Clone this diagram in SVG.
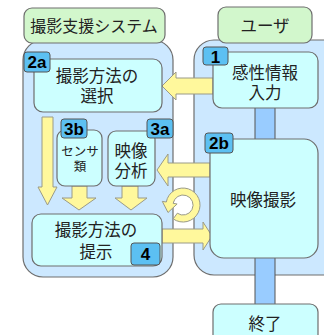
<svg xmlns="http://www.w3.org/2000/svg" width="324" height="335" viewBox="0 0 324 335">
<style>
.panel{fill:#CCE8FF;stroke:#6E6E6E;stroke-width:1.2}
.label{fill:#D2F7CC;stroke:#6E6E6E;stroke-width:1.2}
.node{fill:#CCFFFF;stroke:#6E6E6E;stroke-width:1.2}
.badge{fill:#5CC0F2;stroke:#555;stroke-width:1}
.bar{fill:#99CCFF;stroke:#555;stroke-width:1}
.arrow{fill:#FFF89C;stroke:#9A9A88;stroke-width:1}
text{font-family:"Noto Sans CJK JP","Noto Sans",sans-serif;fill:#222;text-anchor:middle}
.t{font-size:16.5px}
.ts{font-size:12.5px}
.b{font-family:"Liberation Sans",Arial,sans-serif;font-weight:bold;font-size:17px;fill:#000}
</style>
<g id="system-panel">
<rect class="panel" x="23" y="40" width="150" height="237" rx="20"/>
<rect class="label" x="24" y="8" width="141" height="35" rx="8"/>
<text class="t" x="94" y="32" style="font-size:16px">撮影支援システム</text>
</g>
<g id="user-panel">
<rect class="panel" x="194" y="40" width="150" height="235" rx="20"/>
<rect class="label" x="218" y="7" width="94" height="36" rx="8"/>
<text class="t" x="265" y="32">ユーザ</text>
</g>
<g id="connectors">
<rect class="bar" x="255" y="107" width="20" height="33"/>
<rect class="bar" x="255" y="257" width="20" height="48"/>
<polygon class="arrow" points="213,78 176,78 176,72 162,86 176,100 176,94 213,94"/>
<polygon class="arrow" points="210,163 168,163 168,154 157,170 168,186 168,177 210,177"/>
<polygon class="arrow" points="162,229 203,229 203,222 212,236 203,250 203,243 162,243"/>
<polygon class="arrow" points="42,117 53,117 53,187 57,187 47.5,205 38,187 42,187"/>
<polygon class="arrow" points="72,186 87,186 87,198 96,198 79,210 62,198 72,198"/>
<polygon class="arrow" points="122,186 138,186 138,198 147,198 131,210 115,198 122,198"/>
<path class="arrow" d="M173.2,218.9 A17,17 0 1 0 166.3,202 L162.3,201.4 L168,212.5 L177.1,204 L173.2,203.3 A10,10 0 1 1 177.3,213.2 Z"/>
</g>
<g id="node-1">
<rect class="node" x="213" y="52" width="105" height="56" rx="9"/>
<text class="t" x="265" y="79">感性情報<tspan x="265" dy="20">入力</tspan></text>
<rect class="badge" x="203" y="47" width="25" height="18" rx="3"/>
<text class="b" x="215.5" y="62.5">1</text>
</g>
<g id="node-2a">
<rect class="node" x="34" y="59" width="128" height="53" rx="9"/>
<text class="t" x="97" y="82">撮影方法の<tspan x="97" dy="20">選択</tspan></text>
<rect class="badge" x="24" y="52" width="26" height="20" rx="3"/>
<text class="b" x="37" y="68">2a</text>
</g>
<g id="node-3b">
<rect class="node" x="57" y="130" width="45" height="56" rx="8"/>
<text class="ts" x="80" y="156">センサ<tspan x="80" dy="15">類</tspan></text>
<rect class="badge" x="61" y="119" width="26" height="19" rx="3"/>
<text class="b" x="74" y="134.5">3b</text>
</g>
<g id="node-3a">
<rect class="node" x="108" y="131" width="47" height="55" rx="8"/>
<text class="t" x="131" y="157">映像<tspan x="131" dy="20">分析</tspan></text>
<rect class="badge" x="147" y="119" width="26" height="19" rx="3"/>
<text class="b" x="160" y="134.5">3a</text>
</g>
<g id="node-2b">
<rect class="node" x="210" y="139" width="108" height="119" rx="14"/>
<text class="t" x="263" y="206">映像撮影</text>
<rect class="badge" x="205" y="133" width="28" height="20" rx="3"/>
<text class="b" x="219" y="149">2b</text>
</g>
<g id="node-4">
<rect class="node" x="32" y="214" width="130" height="52" rx="9"/>
<text class="t" x="96" y="236">撮影方法の<tspan x="96" dy="22">提示</tspan></text>
<rect class="badge" x="131" y="243" width="29" height="22" rx="3"/>
<text class="b" x="145.5" y="260">4</text>
</g>
<g id="node-end">
<rect class="node" x="213" y="304" width="105" height="45" rx="8"/>
<text class="t" x="265" y="330">終了</text>
</g>
</svg>
